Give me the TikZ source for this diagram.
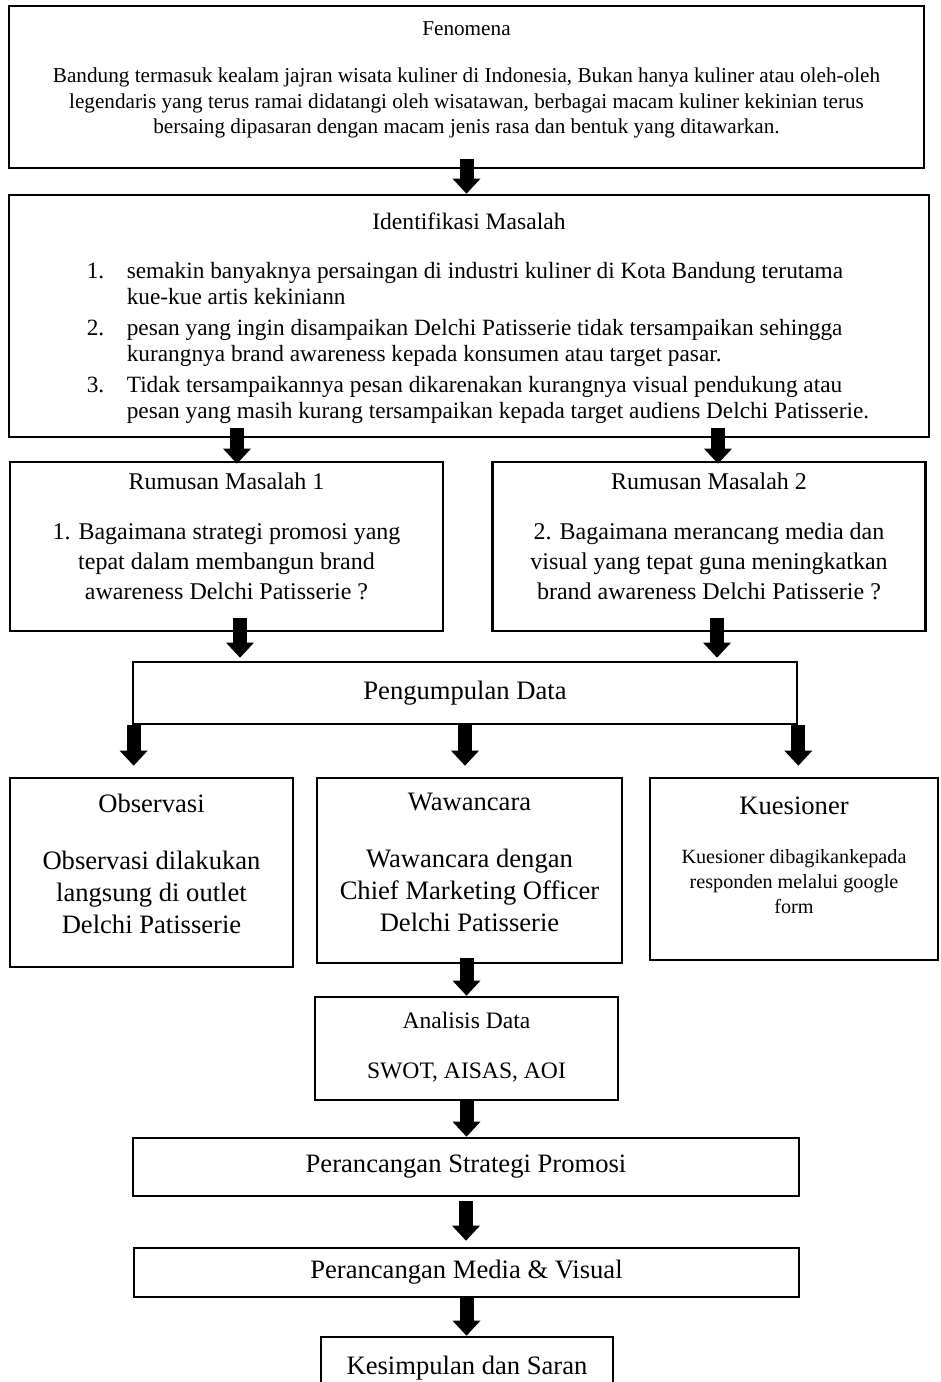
\documentclass[tikz,border=0pt]{standalone}
\usepackage{fontspec}
\setmainfont{Liberation Serif}
\usetikzlibrary{arrows.meta}

\begin{document}
\begin{tikzpicture}[x=0.5pt,y=-0.5pt,
    box/.style={draw,line width=1.35pt,inner sep=0pt,align=center},
    txt/.style={inner sep=0pt,align=center,anchor=north},
    fatarrow/.style={line width=7pt,-{Triangle[width=14pt,length=7.5pt,line width=0pt]}},
    bigfont/.style={font=\fontsize{13.3}{16}\selectfont}]
  \useasboundingbox (0,0) rectangle (941,1382);
  \clip (0,0) rectangle (941,1382);

  \node[box,minimum width=457.5pt,minimum height=81pt] (fen) at (466.5,87) {};
  \node[txt,font=\fontsize{10.6}{12.75}\selectfont] (fentxt) at ([yshift=-8.5pt]fen.north)
    {Fenomena\\[10.75pt]
     Bandung termasuk kealam jajran wisata kuliner di Indonesia, Bukan hanya kuliner atau oleh-oleh\\
     legendaris yang terus ramai didatangi oleh wisatawan, berbagai macam kuliner kekinian terus\\
     bersaing dipasaran dengan macam jenis rasa dan bentuk yang ditawarkan.};

  \node[box,minimum width=460pt,minimum height=121pt] (iden) at (469,316) {};
  \node[txt,font=\fontsize{11.8}{13}\selectfont] (idtitle) at ([yshift=-9.5pt]iden.north) {Identifikasi Masalah};
  \node[txt,font=\fontsize{11.65}{13}\selectfont] (idlist) at ([xshift=4.5pt,yshift=-32.9pt]iden.north)
    {\begin{tabular}[t]{@{}p{20pt}@{}l@{}}
     1. & semakin banyaknya persaingan di industri kuliner di Kota Bandung terutama\\
        & kue-kue artis kekiniann\\[2.5pt]
     2. & pesan yang ingin disampaikan Delchi Patisserie tidak tersampaikan sehingga\\
        & kurangnya brand awareness kepada konsumen atau target pasar.\\[2.5pt]
     3. & Tidak tersampaikannya pesan dikarenakan kurangnya visual pendukung atau\\
        & pesan yang masih kurang tersampaikan kepada target audiens Delchi Patisserie.
     \end{tabular}};

  \node[box,minimum width=216.5pt,minimum height=84.5pt] (rm1) at (226.5,546.5) {};
  \node[txt,font=\fontsize{12}{15}\selectfont] (rm1txt) at ([yshift=-6pt]rm1.north)
    {Rumusan Masalah 1\\[10pt]1. Bagaimana strategi promosi yang\\tepat dalam membangun brand\\awareness Delchi Patisserie ?};
  \node[box,minimum width=216.5pt,minimum height=84.5pt] (rm2) at (709,546.5) {};
  \node[txt,font=\fontsize{12}{15}\selectfont] (rm2txt) at ([yshift=-6pt]rm2.north)
    {Rumusan Masalah 2\\[10pt]2. Bagaimana merancang media dan\\visual yang tepat guna meningkatkan\\brand awareness Delchi Patisserie ?};

  \node[box,bigfont,minimum width=332pt,minimum height=31pt] (peng) at (465,693) {Pengumpulan Data};

  \node[box,minimum width=141.5pt,minimum height=94.5pt] (obs) at (151.5,872.5) {};
  \node[txt,bigfont] (obstxt) at ([yshift=-8.5pt]obs.north)
    {Observasi\\[12.5pt]Observasi dilakukan\\langsung di outlet\\Delchi Patisserie};
  \node[box,minimum width=152.5pt,minimum height=92.5pt] (waw) at (469.5,870.5) {};
  \node[txt,bigfont] (wawtxt) at ([yshift=-8pt]waw.north)
    {Wawancara\\[12.5pt]Wawancara dengan\\Chief Marketing Officer\\Delchi Patisserie};
  \node[box,minimum width=144pt,minimum height=91pt] (kue) at (794,869) {};
  \node[txt,font=\fontsize{10.1}{12.5}\selectfont] (kuetxt) at ([yshift=-10pt]kue.north)
    {{\fontsize{13.3}{16}\selectfont Kuesioner}\\[12pt]Kuesioner dibagikankepada\\responden melalui google\\form};

  \node[box,minimum width=151.5pt,minimum height=51.5pt] (ana) at (466.5,1048.5) {};
  \node[txt,font=\fontsize{11.8}{14}\selectfont] (anatxt) at ([yshift=-8pt]ana.north)
    {Analisis Data\\[11pt]SWOT, AISAS, AOI};

  \node[box,bigfont,minimum width=333pt,minimum height=29pt] (str) at (466,1167) {Perancangan Strategi Promosi};
  \node[box,bigfont,minimum width=332.5pt,minimum height=24.5pt] (med) at (466.5,1272.5) {Perancangan Media \& Visual};
  \node[box,bigfont,minimum width=146pt,minimum height=31pt] (kes) at (467,1368) {Kesimpulan dan Saran};

  \draw[fatarrow] ([yshift=5pt]fen.south) -- (fen.south |- iden.north);
  \draw[fatarrow] ([xshift=5.25pt,yshift=5pt]iden.south -| rm1.north) -- ([xshift=5.25pt,yshift=-1.5pt]rm1.north);
  \draw[fatarrow] ([xshift=4.5pt,yshift=5pt]iden.south -| rm2.north) -- ([xshift=4.5pt,yshift=-1.5pt]rm2.north);
  \draw[fatarrow] ([xshift=6.75pt,yshift=7pt]rm1.south) -- ([xshift=6.75pt,yshift=1.5pt]rm1.south |- peng.north);
  \draw[fatarrow] ([xshift=4pt,yshift=7pt]rm2.south) -- ([xshift=4pt,yshift=1.5pt]rm2.south |- peng.north);
  \draw[fatarrow] ([xshift=1pt]peng.south west) -- ([xshift=1pt,yshift=5.5pt]peng.south west |- obs.north);
  \draw[fatarrow] (peng.south) -- ([yshift=5.5pt]peng.south |- waw.north);
  \draw[fatarrow] (peng.south east) -- ([yshift=5.5pt]peng.south east |- kue.north);
  \draw[fatarrow] ([yshift=3pt]waw.south -| ana.north) -- (ana.north);
  \draw[fatarrow] (ana.south) -- (ana.south |- str.north);
  \draw[fatarrow] ([yshift=-2pt]str.south) -- ([yshift=3pt]str.south |- med.north);
  \draw[fatarrow] (med.south) -- (med.south |- kes.north);
\end{tikzpicture}
\end{document}
